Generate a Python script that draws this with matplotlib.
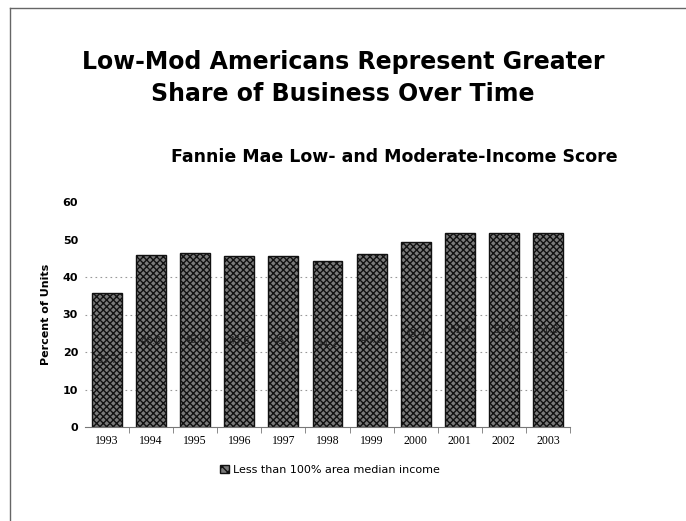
import matplotlib

matplotlib.use("Agg")
import matplotlib.pyplot as plt  # noqa: E402
import numpy as np  # noqa: E402
from matplotlib.lines import Line2D  # noqa: E402
from matplotlib.patches import Patch  # noqa: E402

years = ["1993", "1994", "1995", "1996", "1997", "1998",
         "1999", "2000", "2001", "2002", "2003"]
pct_units = [35.7, 46.0, 46.5, 45.6, 45.7, 44.2, 46.2, 49.4, 51.8, 51.8, 51.8]
yticks = [0, 10, 20, 30, 40, 50, 60]
grid_levels = [10, 20, 30, 40]

BAR_FACE = "#7a7a7a"
BAR_HATCH = "xxxxx"

fig = plt.figure(figsize=(6.86, 5.21), dpi=100)
fig.patch.set_facecolor("white")

# slide frame (top and left edges only are visible)
fig.add_artist(Line2D([10 / 686, 1.0], [1 - 8 / 521, 1 - 8 / 521],
                      transform=fig.transFigure, color="#666666", lw=1))
fig.add_artist(Line2D([10 / 686, 10 / 686], [0.0, 1 - 8 / 521],
                      transform=fig.transFigure, color="#666666", lw=1))

fig.text(0.5, 1 - 78 / 521,
         "Low-Mod Americans Represent Greater\nShare of Business Over Time",
         ha="center", va="center", fontsize=17, fontweight="bold",
         linespacing=1.45, family="DejaVu Sans")
fig.text(394 / 686, 1 - 157 / 521, "Fannie Mae Low- and Moderate-Income Score",
         ha="center", va="center", fontsize=12.5, fontweight="bold",
         family="DejaVu Sans")

ax = fig.add_axes([85 / 686, 1 - 427 / 521, 485 / 686, 225 / 521])
x = np.arange(len(years))
for g in grid_levels:
    ax.axhline(g, color="#999999", lw=0.8, ls=(0, (1.5, 3)), zorder=0)
bars = ax.bar(x, pct_units, width=0.68, color=BAR_FACE, edgecolor="#111111",
              hatch=BAR_HATCH, linewidth=1.0, zorder=2)
for xi, v in zip(x, pct_units):
    ax.text(xi, v / 2, f"{v:.1f}", ha="center", va="center", fontsize=7,
            color="#222222", zorder=3)

ax.set_xlim(-0.5, len(years) - 0.5)
ax.set_ylim(0, 60)
ax.set_yticks(yticks)
ax.set_yticklabels([str(t) for t in yticks], fontsize=8, fontweight="bold")
ax.tick_params(axis="y", length=0, pad=5)
ax.set_xticks(x)
ax.set_xticklabels(years, fontsize=8.5, family="Liberation Serif")
ax.set_xticks(np.arange(len(years)) + 0.5, minor=True)
ax.tick_params(axis="x", which="major", length=0, pad=6)
ax.tick_params(axis="x", which="minor", length=4, color="#777777")
for side in ["top", "right", "left"]:
    ax.spines[side].set_visible(False)
ax.spines["bottom"].set_color("#777777")
ax.set_ylabel("Percent of Units", fontsize=8, fontweight="bold", labelpad=8)

handle = Patch(facecolor=BAR_FACE, edgecolor="#111111", hatch="xxx")
fig.legend([handle], ["Less than 100% area median income"],
           loc="center", bbox_to_anchor=(330 / 686, 1 - 470 / 521),
           frameon=False, fontsize=8, handlelength=0.8, handleheight=0.8,
           handletextpad=0.3)

fig.savefig("out.png", dpi=100)
plt.close(fig)
